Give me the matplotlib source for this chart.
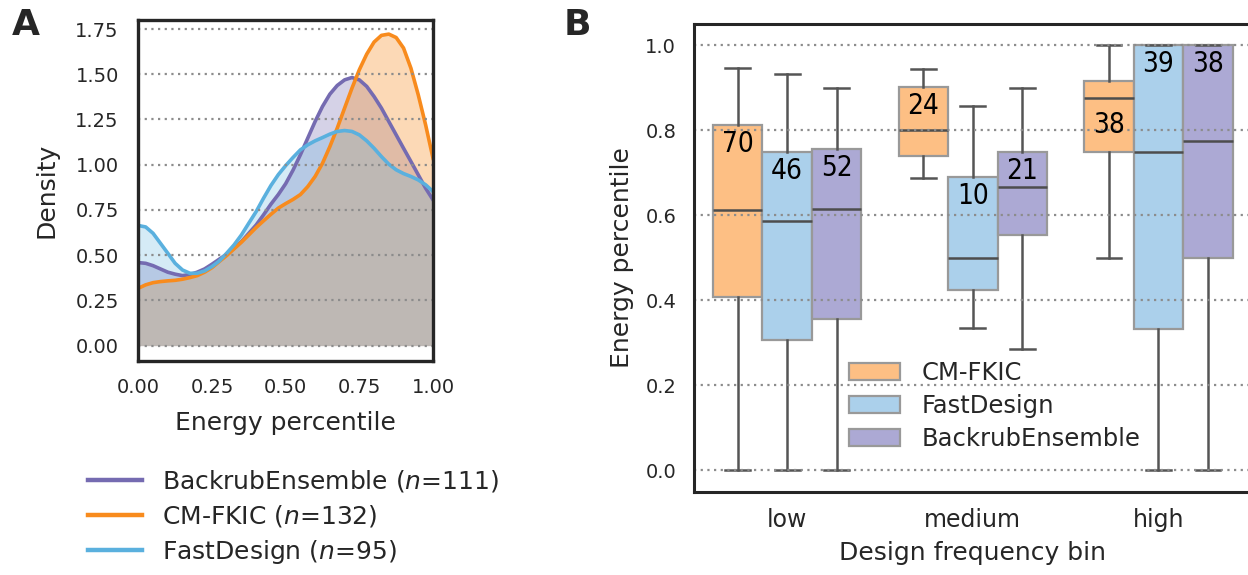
import matplotlib
matplotlib.use('Agg')
import matplotlib.pyplot as plt
from matplotlib.patches import Patch
from matplotlib.lines import Line2D

# ---- panel A: density curves ----
kde_x = [0.000, 0.025, 0.050, 0.075, 0.100, 0.125, 0.150, 0.175, 0.200, 0.225,
         0.250, 0.275, 0.300, 0.325, 0.350, 0.375, 0.400, 0.425, 0.450, 0.475,
         0.500, 0.525, 0.550, 0.575, 0.600, 0.625, 0.650, 0.675, 0.700, 0.725,
         0.750, 0.775, 0.800, 0.825, 0.850, 0.875, 0.900, 0.925, 0.950, 0.975, 1.000]
backrub_density = [0.459, 0.455, 0.442, 0.424, 0.406, 0.395, 0.387, 0.393, 0.406, 0.424,
                   0.450, 0.478, 0.505, 0.538, 0.575, 0.621, 0.667, 0.723, 0.782, 0.835,
                   0.895, 0.970, 1.055, 1.147, 1.239, 1.322, 1.390, 1.438, 1.469, 1.482,
                   1.469, 1.433, 1.377, 1.313, 1.239, 1.165, 1.091, 1.018, 0.944, 0.870, 0.806]
fkic_density = [0.317, 0.336, 0.348, 0.354, 0.358, 0.361, 0.367, 0.376, 0.387, 0.406,
                0.431, 0.465, 0.498, 0.535, 0.572, 0.612, 0.653, 0.690, 0.726, 0.760,
                0.785, 0.808, 0.835, 0.879, 0.935, 1.008, 1.100, 1.202, 1.313, 1.423,
                1.525, 1.611, 1.678, 1.715, 1.722, 1.703, 1.645, 1.534, 1.386, 1.220, 1.036]
fastdesign_density = [0.664, 0.656, 0.621, 0.566, 0.511, 0.455, 0.418, 0.400, 0.400, 0.413,
                      0.437, 0.468, 0.511, 0.557, 0.612, 0.677, 0.741, 0.815, 0.885, 0.945,
                      0.995, 1.040, 1.082, 1.110, 1.132, 1.150, 1.169, 1.184, 1.189, 1.184,
                      1.165, 1.132, 1.091, 1.045, 1.003, 0.972, 0.951, 0.935, 0.916, 0.889, 0.852]
methods_a = ['BackrubEnsemble', 'CM-FKIC', 'FastDesign']
counts_a = [111, 132, 95]

# ---- panel B: box stats per method, per bin: whislo, q1, med, q3, whishi ----
bins = ['low', 'medium', 'high']
methods_b = ['CM-FKIC', 'FastDesign', 'BackrubEnsemble']
fkic_box = [[0.0, 0.408, 0.612, 0.813, 0.947],
            [0.687, 0.739, 0.80, 0.901, 0.944],
            [0.50, 0.749, 0.875, 0.917, 1.0]]
fastdesign_box = [[0.0, 0.307, 0.586, 0.749, 0.933],
                  [0.334, 0.425, 0.50, 0.691, 0.857],
                  [0.0, 0.333, 0.75, 1.0, 1.0]]
backrub_box = [[0.0, 0.356, 0.614, 0.757, 0.899],
               [0.285, 0.554, 0.666, 0.75, 0.899],
               [0.0, 0.50, 0.774, 1.0, 1.0]]
box_counts = [[70, 24, 38], [46, 10, 39], [52, 21, 38]]

line_colors = {'BackrubEnsemble': '#756bb1', 'CM-FKIC': '#f88b1d', 'FastDesign': '#5ab0de'}
fill_alpha = {'BackrubEnsemble': 0.30, 'CM-FKIC': 0.32, 'FastDesign': 0.25}
box_colors = {'CM-FKIC': '#fdbf84', 'FastDesign': '#abd0eb', 'BackrubEnsemble': '#aca9d4'}
dark = '#262626'
grid_kw = dict(color='#8c8c8c', linestyle=(0, (1, 2)), linewidth=1.6)

plt.rcParams['font.family'] = ['DejaVu Sans']
plt.rcParams['text.color'] = dark
plt.rcParams['axes.labelcolor'] = dark
plt.rcParams['xtick.color'] = dark
plt.rcParams['ytick.color'] = dark

W, H = 1248, 575
fig = plt.figure(figsize=(W / 100, H / 100), dpi=100)

# ---------------- panel A ----------------
axA = fig.add_axes([138.3 / W, 1 - 361 / H, 294.7 / W, 341 / H])
curves = [backrub_density, fkic_density, fastdesign_density]
handles = []
for name, n, dens in zip(methods_a, counts_a, curves):
    c = line_colors[name]
    axA.fill_between(kde_x, 0, dens, color=c, alpha=fill_alpha[name], linewidth=0)
    axA.plot(kde_x, dens, color=c, lw=2.6, solid_joinstyle='round')
    handles.append(Line2D([0], [0], color=c, lw=3.2, label=name + ' ($n$=%d)' % n))

axA.set_xlim(0, 1)
axA.set_ylim(-0.085, 1.80)
axA.set_xticks([0, 0.25, 0.5, 0.75, 1.0])
axA.set_xticklabels(['%.2f' % v for v in [0, 0.25, 0.5, 0.75, 1.0]])
yt = [0, 0.25, 0.5, 0.75, 1.0, 1.25, 1.5, 1.75]
axA.set_yticks(yt)
axA.set_yticklabels(['%.2f' % v for v in yt])
for v in yt:
    axA.axhline(v, **grid_kw, zorder=5)
axA.tick_params(length=0, labelsize=14, pad=14)
axA.tick_params(axis='x', pad=12)
axA.set_xlabel('Energy percentile', fontsize=18, labelpad=10)
axA.set_ylabel('Density', fontsize=18, labelpad=12)
for s in axA.spines.values():
    s.set_linewidth(2.4)
    s.set_color(dark)
    s.set_zorder(10)

fig.legend(handles=handles, loc='upper left', bbox_to_anchor=(88 / W, 1 - 468 / H),
           frameon=False, fontsize=18, handlelength=2.15, handletextpad=0.8,
           labelspacing=0.35, borderpad=0, borderaxespad=0)

# ---------------- panel B ----------------
axB = fig.add_axes([694.3 / W, 1 - 491.7 / H, 557 / W, 467.7 / H])
boxes = {'CM-FKIC': fkic_box, 'FastDesign': fastdesign_box, 'BackrubEnsemble': backrub_box}
bw = 0.8 / 3
for j, name in enumerate(methods_b):
    stats = []
    for i, b in enumerate(boxes[name]):
        stats.append(dict(whislo=b[0], q1=b[1], med=b[2], q3=b[3], whishi=b[4], fliers=[]))
    pos = [i + (j - 1) * bw for i in range(len(bins))]
    axB.bxp(stats, positions=pos, widths=bw, patch_artist=True, showfliers=False,
            capwidths=bw * 0.5,
            boxprops=dict(facecolor=box_colors[name], edgecolor='#999999', linewidth=1.6),
            whiskerprops=dict(color='#555555', linewidth=1.8),
            capprops=dict(color='#555555', linewidth=1.8),
            medianprops=dict(color='#4d4d4d', linewidth=1.8))
    for i, b in enumerate(boxes[name]):
        ty = b[3] - 0.045
        if abs(ty - b[2]) < 0.03:
            ty = (b[2] + b[1]) / 2
        axB.text(pos[i], ty, str(box_counts[j][i]), ha='center', va='center',
                 fontsize=20, family='DejaVu Sans', fontstretch='condensed',
                 color='black', zorder=6)

axB.set_xlim(-0.5, 2.5)
axB.set_ylim(-0.05, 1.05)
axB.set_xticks(range(len(bins)))
axB.set_xticklabels(bins)
ytb = [0.0, 0.2, 0.4, 0.6, 0.8, 1.0]
axB.set_yticks(ytb)
axB.set_yticklabels(['%.1f' % v for v in ytb])
for v in ytb:
    axB.axhline(v, **grid_kw, zorder=5)
axB.tick_params(axis='y', length=0, labelsize=14, pad=13)
axB.tick_params(axis='x', length=0, labelsize=17, pad=12)
axB.set_xlabel('Design frequency bin', fontsize=18, labelpad=6)
axB.set_ylabel('Energy percentile', fontsize=18, labelpad=8)
for s in axB.spines.values():
    s.set_linewidth(2.2)
    s.set_color(dark)
    s.set_zorder(10)

patches = [Patch(facecolor=box_colors[m], edgecolor='#999999', linewidth=1.6, label=m)
           for m in methods_b]
fig.legend(handles=patches, loc='upper left', bbox_to_anchor=(849 / W, 1 - 361 / H),
           frameon=False, fontsize=17.5, handlelength=2.1, handleheight=0.7,
           handletextpad=0.9, labelspacing=0.37, borderpad=0, borderaxespad=0)

fig.text(12 / W, 1 - 8 / H, 'A', fontsize=26, fontweight='bold', va='top', ha='left')
fig.text(564 / W, 1 - 8 / H, 'B', fontsize=26, fontweight='bold', va='top', ha='left')

fig.savefig('out.png', dpi=100)
